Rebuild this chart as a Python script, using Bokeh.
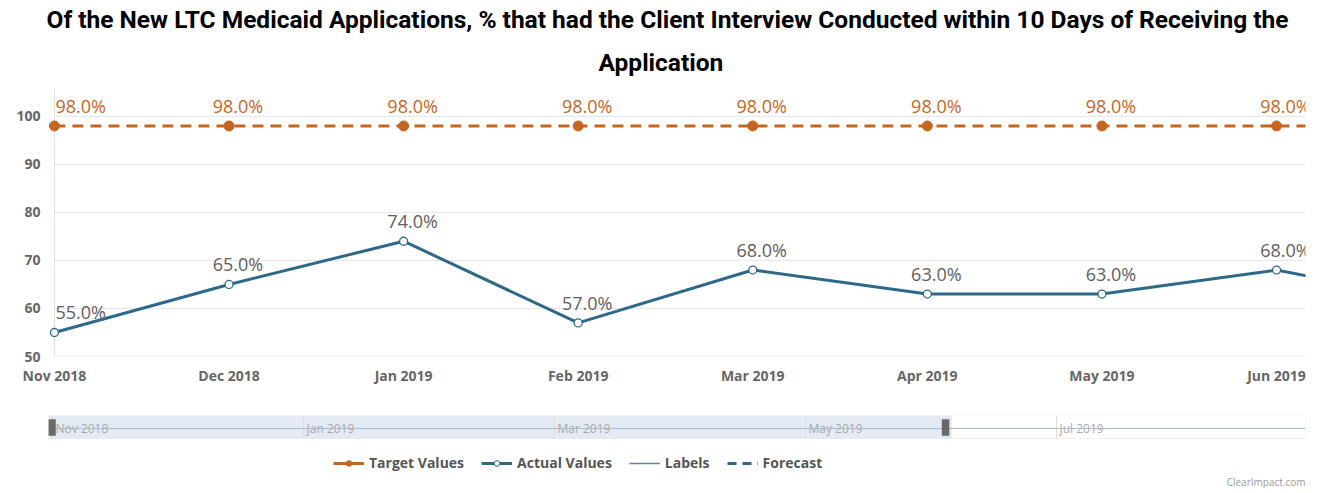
from bokeh.plotting import figure
from bokeh.models import (ColumnDataSource, FixedTicker, Title, Legend, LegendItem,
                          BoxAnnotation, Span, Range1d, LabelSet, Label)
from bokeh.layouts import column
from bokeh.embed import file_html
from bokeh.resources import INLINE
from bokeh.core.properties import value

# ---------------- data ----------------
months = ["Nov 2018", "Dec 2018", "Jan 2019", "Feb 2019", "Mar 2019", "Apr 2019",
          "May 2019", "Jun 2019", "Jul 2019", "Aug 2019", "Sep 2019"]
target_values = [98, 98, 98, 98, 98, 98, 98, 98, 98]
actual_values = [55, 65, 74, 57, 68, 63, 63, 68, 61]
y_ticks = [50, 60, 70, 80, 90, 100]
nav_tick_labels = ["Nov 2018", "Jan 2019", "Mar 2019", "May 2019", "Jul 2019"]
title_line1 = "Of the New LTC Medicaid Applications, % that had the Client Interview Conducted within 10 Days of Receiving the"
title_line2 = "Application"
credit = "ClearImpact.com"

ORANGE = "#c4661f"
BLUE = "#2e6988"
LABEL_GRAY = "#606060"
AXIS_GRAY = "#666666"
GRID = "#e6e6e6"
TITLE_FONT = "Roboto"
BODY_FONT = "'Open Sans', 'DejaVu Sans', sans-serif"

n = len(actual_values)
xs = list(range(n))
src = ColumnDataSource(dict(x=xs, target=target_values, actual=actual_values))

main_x_start, main_x_end = -0.034, 7.166
n_vis = 8  # points inside the main window (Nov 2018 .. Jun 2019)
lab_first = ColumnDataSource(dict(
    x=xs[:1], target=target_values[:1], actual=actual_values[:1],
    tlab=[f"{v:.1f}%" for v in target_values[:1]],
    alab=[f"{v:.1f}%" for v in actual_values[:1]]))
lab_rest = ColumnDataSource(dict(
    x=xs[1:n_vis], target=target_values[1:n_vis], actual=actual_values[1:n_vis],
    tlab=[f"{v:.1f}%" for v in target_values[1:n_vis]],
    alab=[f"{v:.1f}%" for v in actual_values[1:n_vis]]))

# ---------------- main chart ----------------
p = figure(width=1318, height=390, output_backend="svg", toolbar_location=None,
           x_range=Range1d(main_x_start, main_x_end), y_range=Range1d(50, 105.8),
           min_border_left=45, min_border_right=13, min_border_bottom=34,
           min_border_top=88)
p.outline_line_color = None

p.add_layout(Title(text=title_line2, align="left", text_font=TITLE_FONT,
                   text_font_size="24.5px", text_font_style="bold",
                   text_color="black", standoff=24, offset=550), "above")
p.add_layout(Title(text=title_line1, align="left", text_font=TITLE_FONT,
                   text_font_size="24.5px", text_font_style="bold",
                   text_color="black", standoff=0, offset=-2), "above")

# axes
p.xaxis.ticker = FixedTicker(ticks=list(range(n_vis)))
p.xaxis.major_label_overrides = {i: months[i] for i in range(n_vis)}
p.yaxis.ticker = FixedTicker(ticks=y_ticks)
for ax in (p.xaxis, p.yaxis):
    ax.major_tick_line_color = None
    ax.minor_tick_line_color = None
    ax.major_tick_out = 0
    ax.major_tick_in = 0
    ax.minor_tick_out = 0
    ax.major_label_text_font = BODY_FONT
    ax.major_label_text_font_size = "14px"
    ax.major_label_text_font_style = "bold"
    ax.major_label_text_color = AXIS_GRAY
    ax.axis_line_color = None
p.xaxis.major_label_standoff = 9
p.yaxis.major_label_standoff = 8
p.xgrid.grid_line_color = None
p.ygrid.grid_line_color = None

# horizontal grid lines starting at the first category, vertical axis line
p.segment(x0=[0] * len(y_ticks), y0=y_ticks, x1=[main_x_end] * len(y_ticks),
          y1=y_ticks, line_color=GRID, line_width=1, level="underlay")
p.add_layout(Span(location=0, dimension="height", line_color="#e0e0e0",
                  line_width=1, level="underlay"))

# target series
p.line("x", "target", source=src, line_color=ORANGE, line_width=3, line_dash="11 7")
p.scatter("x", "target", source=src, size=10, fill_color=ORANGE, line_color=ORANGE)
# actual series
p.line("x", "actual", source=src, line_color=BLUE, line_width=3)
p.scatter("x", "actual", source=src, size=8, fill_color="white", line_color=BLUE,
          line_width=1.3)

# data labels
for s, align, xo in ((lab_first, "left", 1), (lab_rest, "center", 9)):
    p.add_layout(LabelSet(x="x", y="target", text="tlab", source=s,
                          text_align=align, x_offset=xo, y_offset=8,
                          text_baseline="bottom", text_color=ORANGE,
                          text_font=value("Open Sans"), text_font_size="18px"))
    p.add_layout(LabelSet(x="x", y="actual", text="alab", source=s,
                          text_align=align, x_offset=xo, y_offset=8,
                          text_baseline="bottom", text_color=LABEL_GRAY,
                          text_font=value("Open Sans"), text_font_size="18px"))

# ---------------- navigator + legend ----------------
# y units of the navigator panel are pixels: box spans 0..23, legend and credit below
nav_start, nav_end = -0.032, 9.984
nav = figure(width=1318, height=98, output_backend="svg", toolbar_location=None,
             x_range=Range1d(nav_start, nav_end), y_range=Range1d(-50, 23),
             min_border_left=48, min_border_right=13, min_border_top=25,
             min_border_bottom=0)
nav.outline_line_color = None
nav.xaxis.visible = False
nav.yaxis.visible = False
nav.xgrid.grid_line_color = None
nav.ygrid.grid_line_color = None

nav_pos = [months.index(m) for m in nav_tick_labels]
nav_src = ColumnDataSource(dict(x=nav_pos, y=[10] * len(nav_pos),
                                y0=[0] * len(nav_pos), y1=[23] * len(nav_pos),
                                t=nav_tick_labels))

# selected window and outline
nav.add_layout(BoxAnnotation(left=nav_start, right=main_x_end, bottom=0, top=23,
                             fill_color="#e3eaf4", fill_alpha=1, line_color=None,
                             level="underlay"))
nav.segment(x0="x", y0="y0", x1="x", y1="y1", source=nav_src, line_color="#dddddd",
            line_width=1)
nav.add_layout(BoxAnnotation(left=nav_start, right=nav_end, bottom=0, top=23,
                             fill_alpha=0, line_color="#d0d0d0", line_width=1))
nav.add_layout(Span(location=10, dimension="width", line_color="#a9bccb",
                    line_width=1))
nav.text("x", "y", text="t", source=nav_src, x_offset=3, text_baseline="middle",
         text_color="#aaaaaa", text_font=value("Open Sans"), text_font_size="12px")
hw = 0.028
for hx in (nav_start + hw, main_x_end - 0.05):
    nav.add_layout(BoxAnnotation(left=hx - hw, right=hx + hw, bottom=3, top=19,
                                 fill_color="#6a6a6a", fill_alpha=1,
                                 line_color="#444444", line_width=1))

# legend proxies
r_t_line = nav.line(x=[0], y=[-100], line_color=ORANGE, line_width=3)
r_t_pt = nav.scatter(x=[0], y=[-100], size=10, fill_color=ORANGE, line_color=ORANGE)
r_a_line = nav.line(x=[0], y=[-100], line_color=BLUE, line_width=3)
r_a_pt = nav.scatter(x=[0], y=[-100], size=8, fill_color="white", line_color=BLUE)
r_lab = nav.line(x=[0], y=[-100], line_color="#5b86a8", line_width=1.5)
r_fc = nav.line(x=[0], y=[-100], line_color=BLUE, line_width=3, line_dash="9 6")

legend = Legend(items=[
    LegendItem(label="Target Values", renderers=[r_t_line, r_t_pt]),
    LegendItem(label="Actual Values", renderers=[r_a_line, r_a_pt]),
    LegendItem(label="Labels", renderers=[r_lab]),
    LegendItem(label="Forecast", renderers=[r_fc]),
], orientation="horizontal", location=(285, 16), border_line_color=None,
    background_fill_alpha=0, label_text_font=BODY_FONT, label_text_font_size="14px",
    label_text_font_style="bold", label_text_color="#555555", glyph_width=31,
    glyph_height=14, label_standoff=5, spacing=17, padding=0, margin=0)
nav.add_layout(legend)

nav.add_layout(Label(x=nav_end, y=-43, text=credit, text_align="right",
                     text_baseline="alphabetic", text_color="#999999",
                     text_font="Open Sans", text_font_size="10px"))

layout = column(p, nav, spacing=0)
open("out.html", "w").write(file_html(layout, INLINE))
